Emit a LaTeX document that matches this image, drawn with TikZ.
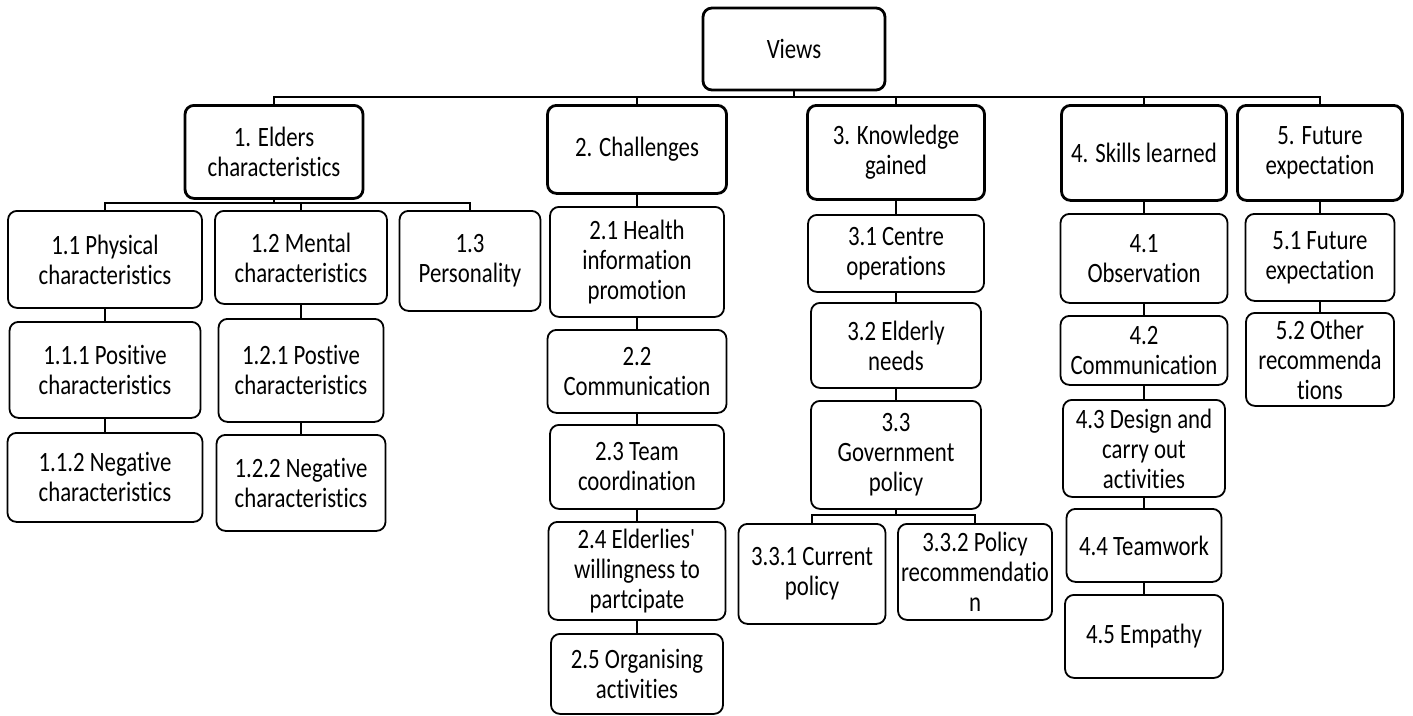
\documentclass[tikz,border=0pt]{standalone}
\usepackage{fontspec}
\setmainfont{Carlito}[FakeStretch=0.815, Ligatures=NoCommon]

\begin{document}
\begin{tikzpicture}[x=1pt, y=-1pt, font=\fontsize{28}{30}\selectfont,
	box/.style={draw, rounded corners=9pt, line width=1.8pt, align=center, inner sep=0pt},
	headbox/.style={box, line width=2.8pt},
	link/.style={line width=1.8pt}]
	\useasboundingbox (0,0) rectangle (1413,715);
	\node[headbox, minimum width=182pt, minimum height=82pt] (views) at (794,49) {Views};
	\foreach \nm/\x/\w/\h/\txt in {e1/274/178/93/{1. Elders\\characteristics}, c2/637/179/88/{2. Challenges},
		k3/896/177/94/{3. Knowledge\\gained}, s4/1144/165/95/{4. Skills learned}, f5/1320/165/95/{5. Future\\expectation}}
		\node[headbox, minimum width=\w pt, minimum height=\h pt, anchor=north] (\nm) at (\x,104) {\txt};
	\foreach \nm/\x/\y/\w/\h/\txt in {e11/105/210/194/97/{1.1 Physical\\characteristics},
		e12/301/210/172/93/{1.2 Mental\\characteristics}, e13/470/210/141/100/{1.3\\Personality},
		e111/105/321/191/96/{1.1.1 Positive\\characteristics}, e112/105/432/195/89/{1.1.2 Negative\\characteristics},
		e121/301/318/165/103/{1.2.1 Postive\\characteristics}, e122/301/434/169/96/{1.2.2 Negative\\characteristics},
		c21/637/206/174/110/{2.1 Health\\information\\promotion}, c22/637/329/179/83/{2.2\\Communication},
		c23/637/424/174/84/{2.3 Team\\coordination}, c24/637/521/177/98/{2.4 Elderlies\textquotesingle\\willingness to\\partcipate},
		c25/637/633/172/80/{2.5 Organising\\activities},
		k31/896/214/176/77/{3.1 Centre\\operations}, k32/896/302/170/85/{3.2 Elderly\\needs},
		k33/896/400/170/108/{3.3\\Government\\policy}, k331/812/523/147/100/{3.3.1 Current\\policy},
		k332/975/523/154/96/{3.3.2 Policy\\recommendatio\\n},
		s41/1144/213/167/89/{4.1\\Observation}, s42/1144/315/167/69/{4.2\\Communication},
		s43/1144/399/162/97/{4.3 Design and\\carry out\\activities}, s44/1144/508/155/73/{4.4 Teamwork},
		s45/1144/594/158/83/{4.5 Empathy},
		f51/1320/213/149/87/{5.1 Future\\expectation}, f52/1320/312/148/93/{5.2 Other\\recommenda\\tions}}
		\node[box, minimum width=\w pt, minimum height=\h pt, anchor=north] (\nm) at (\x,\y) {\txt};
	% buses
	\coordinate (bus) at (794,97);
	\draw[link] (views.south) -- (bus);
	\draw[link] (e1.north) |- (bus) -| (f5.north);
	\foreach \nm in {c2,k3,s4}
		\draw[link] (\nm.north) -- (\nm.north |- bus);
	\coordinate (e1bus) at (274,203);
	\draw[link] (e1.south) -- (e1bus);
	\draw[link] (e11.north) |- (e1bus) -| (e13.north);
	\draw[link] (e12.north) -- (e12.north |- e1bus);
	\coordinate (k3bus) at (896,515);
	\draw[link] (k33.south) -- (k3bus);
	\draw[link] (k331.north) |- (k3bus) -| (k332.north);
	% columns
	\foreach \a/\b in {e11/e111, e111/e112, e12/e121, e121/e122, c2/c21, c21/c22, c22/c23, c23/c24, c24/c25,
		k3/k31, k31/k32, k32/k33, s4/s41, s41/s42, s42/s43, s43/s44, s44/s45, f5/f51, f51/f52}
		\draw[link] (\a.south) -- (\b.north);
\end{tikzpicture}
\end{document}
